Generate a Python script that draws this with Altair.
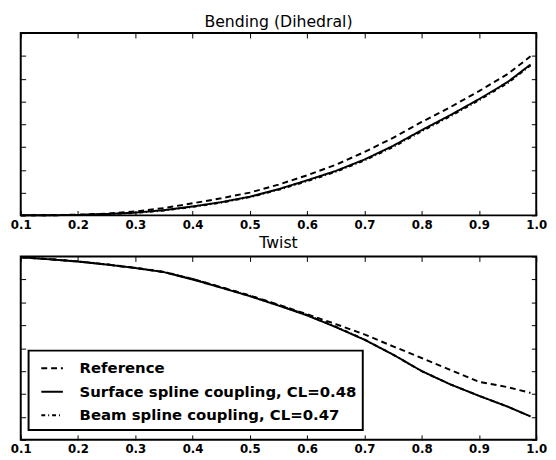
import altair as alt
import pandas as pd

# ---- data ----
x_vals = [0.1, 0.15, 0.2, 0.25, 0.3, 0.35, 0.4, 0.45, 0.5, 0.55, 0.6, 0.65, 0.7, 0.75, 0.8, 0.85, 0.9, 0.95, 0.99]

bend_ref = [0.0, 0.01, 0.03, 0.08, 0.17, 0.32, 0.53, 0.75, 1.0, 1.35, 1.76, 2.22, 2.78, 3.4, 4.1, 4.75, 5.45, 6.2, 6.98]
bend_surf = [0.0, 0.005, 0.02, 0.06, 0.12, 0.23, 0.39, 0.58, 0.82, 1.15, 1.54, 1.95, 2.45, 3.05, 3.74, 4.4, 5.1, 5.85, 6.62]
bend_beam = [0.0, 0.005, 0.02, 0.05, 0.11, 0.21, 0.37, 0.56, 0.8, 1.12, 1.5, 1.91, 2.41, 3.0, 3.69, 4.35, 5.05, 5.8, 6.58]

twist_ref = [7.97, 7.88, 7.78, 7.65, 7.5, 7.32, 7.02, 6.66, 6.3, 5.9, 5.48, 5.05, 4.6, 4.08, 3.57, 3.05, 2.53, 2.3, 2.05]
twist_surf = [7.97, 7.88, 7.78, 7.65, 7.5, 7.32, 7.0, 6.64, 6.27, 5.86, 5.43, 4.92, 4.37, 3.72, 3.0, 2.42, 1.92, 1.45, 1.02]
twist_beam = [7.97, 7.89, 7.79, 7.66, 7.51, 7.33, 7.02, 6.66, 6.29, 5.88, 5.45, 4.94, 4.38, 3.72, 3.0, 2.42, 1.92, 1.45, 1.02]

series_names = ["Reference", "Surface spline coupling, CL=0.48", "Beam spline coupling, CL=0.47"]
dash_styles = [[6, 4], [1, 0], [4, 3, 1, 3]]

x_ticks = [0.1, 0.2, 0.3, 0.4, 0.5, 0.6, 0.7, 0.8, 0.9, 1.0]
y_ticks = [0, 1, 2, 3, 4, 5, 6, 7, 8]

FONT = "DejaVu Sans"


def make_df(ref, surf, beam):
    rows = []
    for name, ys in zip(series_names, [ref, surf, beam]):
        for xv, yv in zip(x_vals, ys):
            rows.append({"x": xv, "y": yv, "series": name})
    return pd.DataFrame(rows)


dash_scale = alt.Scale(domain=series_names, range=dash_styles)
x_scale = alt.Scale(domain=[0.1, 1.0], nice=False)
y_scale = alt.Scale(domain=[0, 8], nice=False, zero=False)


def panel(df, title, title_offset, height, legend):
    base = alt.Chart(df)
    lines = base.mark_line(color="black", strokeWidth=2).encode(
        x=alt.X("x:Q", scale=x_scale, title=None,
                axis=alt.Axis(orient="bottom", values=x_ticks, format=".1f", offset=-5,
                              tickSize=5, tickColor="black", tickWidth=1, domain=False,
                              grid=False, labelFont=FONT, labelFontSize=12,
                              labelFontWeight="bold", labelColor="black",
                              labelPadding=4, labelFlush=False, labelOverlap=False)),
        y=alt.Y("y:Q", scale=y_scale, title=None,
                axis=alt.Axis(orient="left", values=y_ticks, labels=False, offset=-5,
                              tickSize=5, tickColor="black", domain=False, grid=False)),
        strokeDash=alt.StrokeDash("series:N", scale=dash_scale, legend=legend),
    )
    frame = base.mark_line(strokeOpacity=0).encode(
        x=alt.X("x:Q", scale=x_scale, title=None,
                axis=alt.Axis(orient="top", values=x_ticks, labels=False, offset=-5,
                              tickSize=5, tickColor="black", domain=False, grid=False)),
        y=alt.Y("y:Q", scale=y_scale, title=None,
                axis=alt.Axis(orient="right", values=y_ticks, labels=False, offset=-5,
                              tickSize=5, tickColor="black", domain=False, grid=False)),
        detail="series:N",
    )
    return alt.layer(lines, frame).resolve_axis(x="independent", y="independent").properties(
        width=526, height=height,
        title=alt.TitleParams(title, font=FONT, fontSize=16, fontWeight="normal",
                              color="black", offset=title_offset),
    )


top = panel(make_df(bend_ref, bend_surf, bend_beam), "Bending (Dihedral)", 3, 186, None)
bottom = panel(
    make_df(twist_ref, twist_surf, twist_beam), "Twist", 2, 187,
    alt.Legend(orient="none", legendX=8, legendY=96, title=None, symbolType="stroke",
               symbolSize=484, symbolStrokeWidth=2, symbolStrokeColor="black",
               labelFont=FONT, labelFontSize=15.2, labelFontWeight="bold", labelColor="black",
               labelOffset=16, labelLimit=0, padding=6, symbolOffset=6, rowPadding=3,
               strokeColor="black", fillColor="white"),
)

chart = alt.vconcat(top, bottom, spacing=3).resolve_legend(strokeDash="independent").properties(
    padding={"left": 1, "top": 0, "right": 0, "bottom": 0},
    background="white",
).configure_view(stroke="black", strokeWidth=2).configure_legend(strokeWidth=2)

chart.save("out.html", embed_options={"renderer": "svg", "actions": False})
